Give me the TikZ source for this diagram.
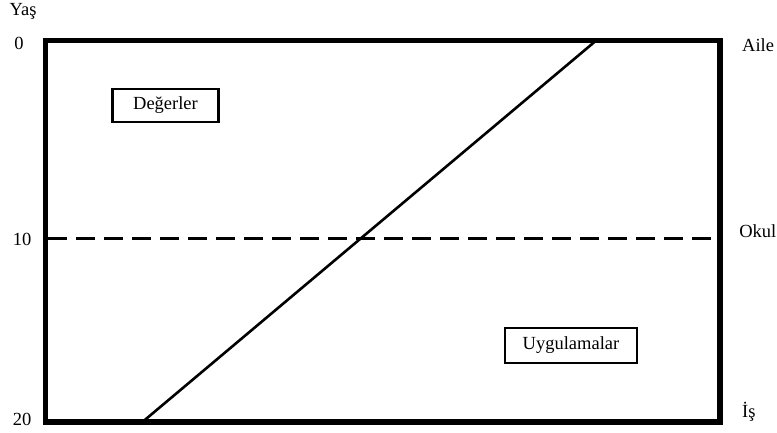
\documentclass[tikz,border=0pt]{standalone}
\usepackage{fontspec}
\setmainfont{Liberation Serif}
\usetikzlibrary{positioning}

\begin{document}
\begin{tikzpicture}[x=1pt, y=-1pt, font=\fontsize{18.5}{20}\selectfont,
  lbl/.style={inner sep=0pt},
  kutu/.style={draw, line width=2.8pt, minimum width=106pt, minimum height=33pt, inner sep=0pt}]
  \useasboundingbox (0,0) rectangle (777,432);

  % frame and school line
  \draw[line width=5.8pt] (45.5,40.5) rectangle (720,422);
  \coordinate (okulL) at (48,238);
  \coordinate (okulR) at (717,238);
  \draw[line width=3pt, dash pattern=on 19pt off 9pt] (okulL) -- (okulR);

  % age scale
  \node[lbl] (yas) at (23,11) {Yaş};
  \foreach \y/\l/\x in {43/0/19, 239/10/22, 419/20/22}
    \node[lbl] (age\l) at (\x,\y) {\l};

  % sides
  \node[lbl, anchor=west] (aile) at (742,45) {Aile};
  \node[lbl, anchor=east] (okul) at (776.5,231) {Okul};
  \node[lbl, anchor=west] (is) at (742,412) {İş};

  % boxes
  \node[kutu] (degerler) at (165.5,105.5) {Değerler};
  \node[kutu, minimum width=132pt, minimum height=35pt] (uygulama) at (571,345.5) {Uygulamalar};

  % diagonal
  \coordinate (alt) at (140,424);
  \coordinate (ust) at (598,39);
  \draw[line width=2.6pt] (alt) -- (ust);
\end{tikzpicture}
\end{document}
